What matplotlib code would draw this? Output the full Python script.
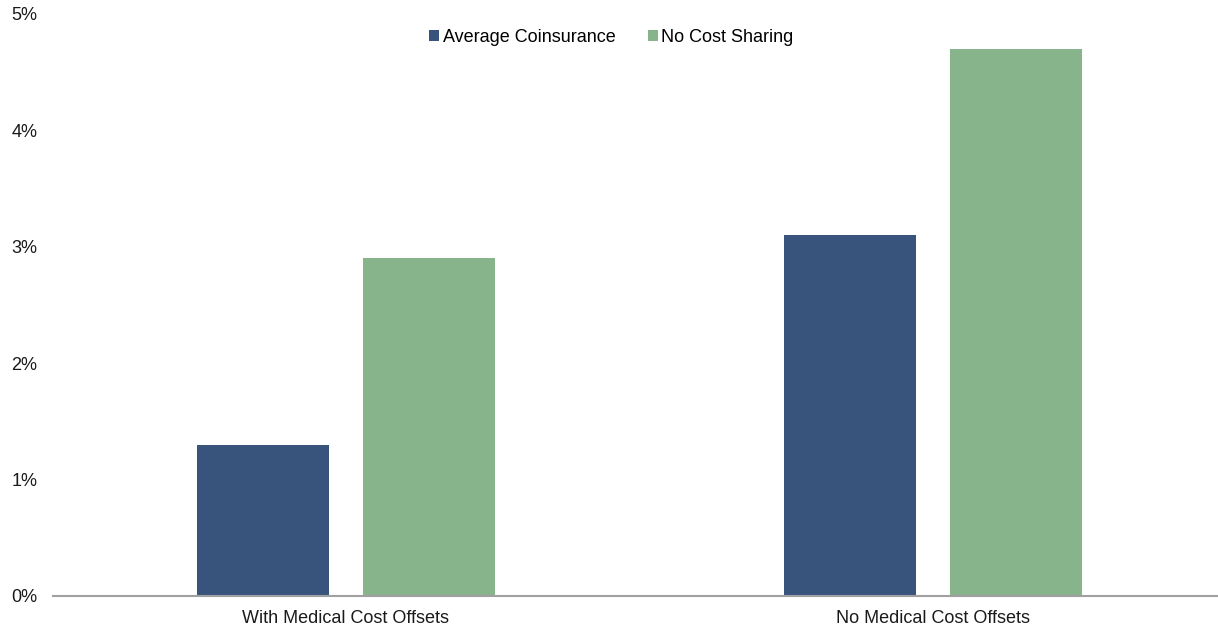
import matplotlib.pyplot as plt
import numpy as np

plt.rcParams['font.family'] = ['Liberation Sans', 'DejaVu Sans']

# 数据
categories = ["With Medical Cost Offsets", "No Medical Cost Offsets"]
avg_coinsurance = [1.3, 3.1]
no_cost_sharing = [2.9, 4.7]
series_names = ["Average Coinsurance", "No Cost Sharing"]
y_ticks = [0, 1, 2, 3, 4, 5]

fig = plt.figure(figsize=(12.18, 6.28), dpi=100)
# 坐标轴位置（像素换算）
ax = fig.add_axes([52.5 / 1218, 1 - 596 / 628, 1174 / 1218, 582 / 628])

x = np.arange(len(categories))
w = 0.225
ax.bar(x - 0.142, avg_coinsurance, width=w, color='#38547D', label=series_names[0], zorder=2)
ax.bar(x + 0.142, no_cost_sharing, width=w, color='#88B48C', label=series_names[1], zorder=2)

ax.set_xlim(-0.5, 1.5)
ax.set_ylim(0, 5)
ax.set_yticks(y_ticks)
ax.set_yticklabels([f"{t}%" for t in y_ticks])
ax.set_xticks(x)
ax.set_xticklabels(categories)
ax.tick_params(length=0, labelsize=13, colors='#1a1a1a')
ax.tick_params(axis='y', pad=11)
ax.tick_params(axis='x', pad=10)

for s in ['top', 'right', 'left']:
    ax.spines[s].set_visible(False)
ax.spines['bottom'].set_color('#A0A0A0')
ax.spines['bottom'].set_linewidth(1.5)

ax.legend(loc='upper center', bbox_to_anchor=(0.476, 1.003), ncol=2, frameon=False,
          fontsize=13, handlelength=0.55, handleheight=0.55, handletextpad=0.2,
          columnspacing=1.8)

fig.savefig('out.png', dpi=100)
